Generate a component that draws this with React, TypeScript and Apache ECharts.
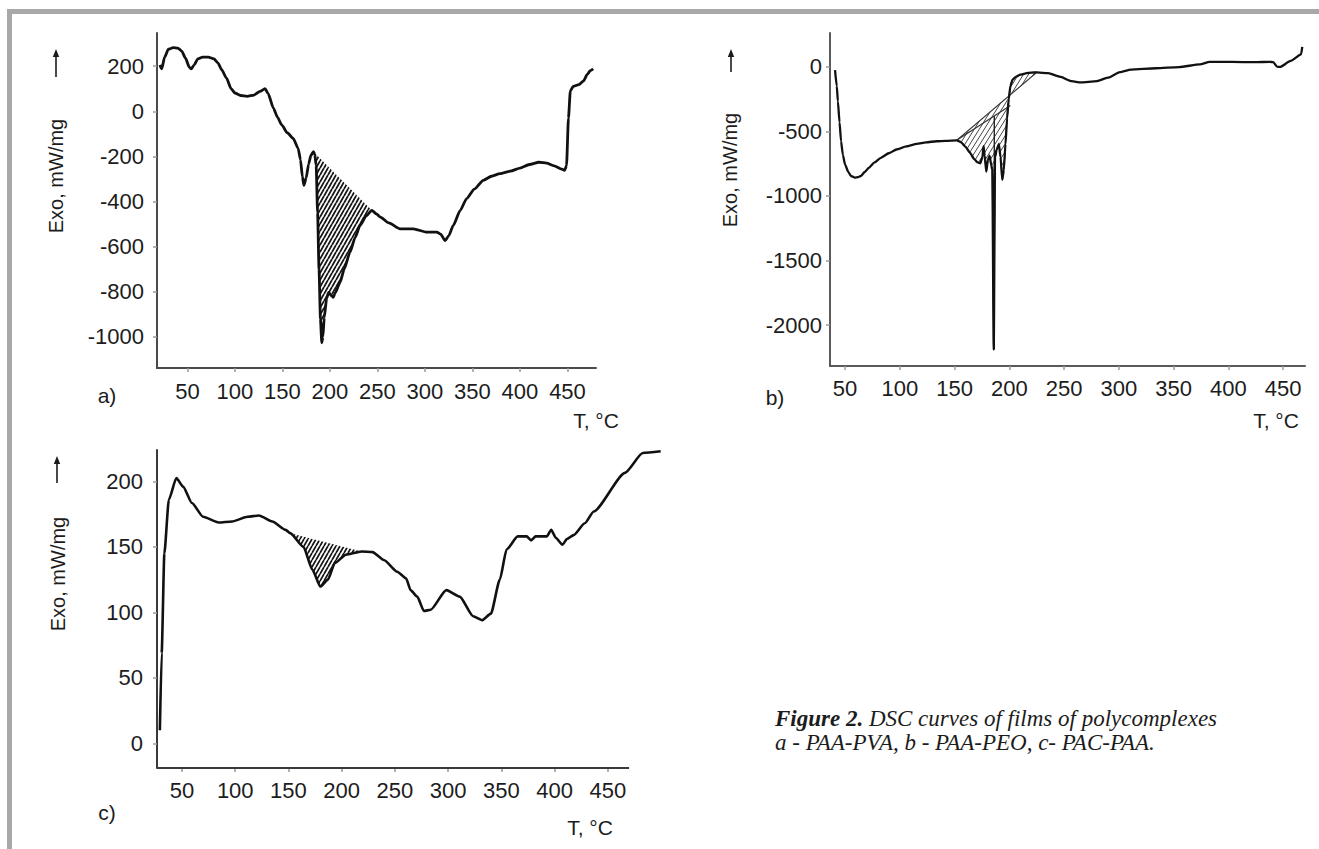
import React, { useEffect, useRef } from "react";
import * as echarts from "echarts";

// ---------- Chart a) PAA-PVA ----------
const aTemp = [21, 23, 26, 30, 35, 40, 44, 48, 52, 54, 57, 61, 66, 72, 78, 82, 86, 91, 96, 100, 106, 113, 120, 126.4, 131.7, 135, 140.5, 145, 149.2, 155, 161.3, 166.5, 169, 171, 172.6, 175, 177.5, 180, 182.6, 184, 185.5, 187, 188.5, 190, 191.4, 192.6, 194, 196.5, 198.6, 201.8, 203.5, 205.5, 210.6, 215, 221.1, 226.5, 231.7, 238, 244, 249, 253, 262, 273.7, 287.7, 302, 312.6, 316.5, 321.2, 325, 329.8, 337, 343.9, 352, 361.4, 370, 379, 390, 400, 410, 420, 428, 436, 443, 447, 449, 451, 453, 456, 462, 467, 471, 474, 477];
const aExo = [205, 188, 240, 275, 282, 280, 267, 235, 195, 188, 205, 232, 240, 240, 232, 215, 185, 148, 100, 81, 70, 66, 72, 88, 100, 78, 14, -28, -60, -95, -120, -164, -215, -290, -328, -295, -235, -195, -179, -190, -240, -450, -700, -920, -1026, -1000, -915, -830, -803, -818, -825, -805, -759, -700, -625, -560, -506, -465, -439, -455, -469, -495, -521, -521, -536, -536, -545, -573, -552, -506, -440, -387, -345, -306, -288, -276, -265, -252, -236, -226, -230, -242, -255, -262, -240, -30, 90, 110, 118, 135, 165, 180, 188];
const aXTicks = [50, 100, 150, 200, 250, 300, 350, 400, 450];
const aYTicks = [-1000, -800, -600, -400, -200, 0, 200];
const aHatchRange = [182.6, 244];

// ---------- Chart b) PAA-PEO ----------
const bTemp = [40.9, 42.5, 43.5, 45, 46.4, 48, 50, 53, 55.5, 59, 62, 64.5, 68, 71.8, 77, 82.7, 90, 97, 106, 115.5, 124, 133.6, 142, 152, 156, 160, 164, 168, 171, 173.5, 175.5, 176.5, 177.5, 179, 180.5, 182, 183.5, 184.5, 185.8, 187, 188.5, 190.5, 192, 193.6, 195, 196.5, 198, 199.5, 201, 203, 206, 210, 215, 220, 225, 235.5, 246, 257, 265, 280, 290, 301, 311, 334, 355, 374, 383, 403, 424, 438, 441, 444.5, 447, 457, 466.4, 467.5];
const bExo = [-26, -150, -269, -430, -577, -680, -756, -815, -846, -859, -855, -846, -815, -782, -740, -705, -670, -641, -617, -597, -585, -577, -574, -570, -585, -620, -665, -715, -740, -748, -700, -615, -690, -812, -720, -690, -760, -800, -2190, -700, -640, -600, -700, -875, -800, -600, -400, -250, -150, -100, -78, -62, -52, -45, -44, -50, -77, -112, -122, -112, -85, -42, -22, -12, -3, 18, 38, 37, 35, 38, 35, 0, -2, 45, 95, 154];
const bXTicks = [50, 100, 150, 200, 250, 300, 350, 400, 450];
const bYTicks = [-2000, -1500, -1000, -500, 0];
const bHatchRange = [152, 225];
const bInnerLineTemp = [152, 201];
const bInnerLineExo = [-570, -300];

// ---------- Chart c) PAC-PAA ----------
const cTemp = [29.2, 30.9, 33.4, 37.6, 44.7, 51, 59.3, 69.8, 84.5, 97, 111.7, 122.2, 134.8, 147.4, 151.6, 164.1, 172.5, 180, 187.1, 193.5, 204, 218.6, 229, 239.6, 252.2, 260.5, 264.7, 271, 277.3, 283.6, 298.3, 310.9, 323.5, 331.8, 340.2, 348.6, 354.9, 365.4, 373.8, 378, 382.2, 392.7, 396.9, 401.1, 407.4, 411.6, 417.9, 428.4, 436.8, 466.1, 482.9, 499.7];
const cExo = [10, 68.8, 145, 186, 202.6, 196, 183.5, 173, 168.6, 169.4, 173, 174, 169.4, 163, 160.5, 150, 132.5, 119.7, 125, 137.6, 144, 146.5, 146, 140, 131, 126, 117, 112, 101, 102, 117, 112, 97, 94, 99, 125, 148, 158, 158, 155, 158, 158, 163, 157, 151.6, 156, 159, 168, 177, 206.5, 221.7, 223];
const cXTicks = [50, 100, 150, 200, 250, 300, 350, 400, 450];
const cYTicks = [0, 50, 100, 150, 200];
const cHatchRange = [151.6, 218.6];
const cAxisEnd = 470;

const SANS = '"Liberation Sans", Arial, sans-serif';
const SERIF = '"Liberation Serif", "Times New Roman", serif';
const INK = "#1c1c1c";

function pairs(t: number[], v: number[]) {
  return t.map((x, i) => [x, v[i]]);
}

function hatchPattern(w: number, h: number, color: string, lw: number) {
  const c = document.createElement("canvas");
  c.width = w;
  c.height = h;
  const ctx = c.getContext("2d")!;
  ctx.strokeStyle = color;
  ctx.lineWidth = lw;
  ctx.beginPath();
  for (const dx of [-w, 0, w]) {
    ctx.moveTo(dx, h);
    ctx.lineTo(dx + w, 0);
  }
  ctx.stroke();
  return { image: c, repeat: "repeat", imageWidth: w, imageHeight: h } as any;
}

const plainNum = (v: number) => String(v);

function xAxisCfg(gridIndex: number, min: number, max: number, ticks: number[], color: string, margin: number, showLine = true) {
  return {
    type: "value",
    gridIndex,
    min,
    max,
    axisLine: { show: showLine, onZero: false, lineStyle: { color, width: 2 } },
    axisTick: { show: true, customValues: ticks, length: 4, lineStyle: { color: "#9a9a9a", width: 1.5 } },
    axisLabel: { show: true, customValues: ticks, formatter: plainNum, margin, color: INK, fontSize: 22, fontFamily: SANS },
    splitLine: { show: false },
  };
}

function yAxisCfg(gridIndex: number, min: number, max: number, ticks: number[], color: string, margin: number) {
  return {
    type: "value",
    gridIndex,
    min,
    max,
    axisLine: { show: true, onZero: false, lineStyle: { color, width: 2 } },
    axisTick: { show: true, customValues: ticks, length: 4, lineStyle: { color: "#9a9a9a", width: 1.5 } },
    axisLabel: { show: true, customValues: ticks, formatter: plainNum, margin, color: INK, fontSize: 22, fontFamily: SANS },
    splitLine: { show: false },
  };
}

function curve(idx: number, t: number[], v: number[], width: number, extra: any = {}) {
  return {
    type: "line",
    xAxisIndex: idx,
    yAxisIndex: idx,
    data: pairs(t, v),
    showSymbol: false,
    symbol: "none",
    smooth: 0.2,
    smoothMonotone: "x",
    clip: false,
    silent: true,
    z: 5,
    lineStyle: { color: "#111", width },
    ...extra,
  };
}

function hatch(idx: number, t: number[], v: number[], range: number[], pattern: any, stroke: string | null, extra?: (api: any) => any[]) {
  const poly = pairs(t, v).filter((p) => p[0] >= range[0] && p[0] <= range[1]);
  return {
    type: "custom",
    xAxisIndex: idx,
    yAxisIndex: idx,
    silent: true,
    z: 3,
    data: [poly[0]],
    renderItem: (_params: any, api: any) => {
      const pts = poly.map((p) => api.coord(p));
      const children: any[] = [
        {
          type: "polygon",
          shape: { points: pts },
          style: { fill: pattern, stroke: stroke || "none", lineWidth: 1.2 },
        },
      ];
      if (extra) children.push(...extra(api));
      return { type: "group", children };
    },
  };
}

function arrow(x: number, yTop: number, yBottom: number) {
  return {
    type: "group",
    children: [
      { type: "line", shape: { x1: x, y1: yTop + 5, x2: x, y2: yBottom }, style: { stroke: INK, lineWidth: 1.6 } },
      { type: "polygon", shape: { points: [[x, yTop], [x - 3.2, yTop + 8], [x + 3.2, yTop + 8]] }, style: { fill: INK } },
    ],
  };
}

function label(text: string, x: number, y: number, size: number, extra: any = {}) {
  return {
    type: "text",
    x,
    y,
    ...extra,
    style: {
      text,
      font: `${size}px ${SANS}`,
      fill: INK,
      textAlign: "center",
      textVerticalAlign: "middle",
      align: "center",
      verticalAlign: "middle",
    },
  };
}

function buildOption() {
  const patA = hatchPattern(4, 7, "#151515", 1.8);
  const patB = hatchPattern(5, 8, "#444", 1.0);
  const patC = hatchPattern(4, 7, "#151515", 1.7);

  const aMin = -1138, aMax = 347;
  const bMin = -2317, bMax = 261;
  const cXMin = 26.5, cXMax = 500, cMin = -18.9, cMax = 224;

  // spike of curve b: deepest point, with a vertical drop line up to the inner baseline
  const bMinIdx = bExo.indexOf(Math.min(...bExo));
  const spikeT = bTemp[bMinIdx];
  const innerAt =
    bInnerLineExo[0] +
    ((spikeT - bInnerLineTemp[0]) / (bInnerLineTemp[1] - bInnerLineTemp[0])) * (bInnerLineExo[1] - bInnerLineExo[0]);

  const bExtra = (api: any) => [
    {
      type: "polyline",
      shape: { points: pairs(bInnerLineTemp, bInnerLineExo).map((p) => api.coord(p)) },
      style: { stroke: "#333", lineWidth: 1.2, fill: "none" },
    },
    {
      type: "polyline",
      shape: { points: [api.coord([spikeT + 0.5, bExo[bMinIdx]]), api.coord([spikeT + 0.5, innerAt])] },
      style: { stroke: "#222", lineWidth: 1.4, fill: "none" },
    },
  ];

  // c) axis line stops at cAxisEnd while the curve runs on past it
  const cAxisLine = {
    silent: true,
    symbol: ["none", "none"],
    label: { show: false },
    emphasis: { disabled: true },
    lineStyle: { color: "#3a3a3a", width: 2, type: "solid" },
    data: [[{ coord: [cXMin, cMin] }, { coord: [cAxisEnd, cMin] }]],
  };

  return {
    animation: false,
    backgroundColor: "#ffffff",
    textStyle: { fontFamily: SANS },
    grid: [
      { left: 157, top: 33, width: 439, height: 335, containLabel: false, outerBoundsMode: "none" },
      { left: 830, top: 33, width: 475, height: 333, containLabel: false, outerBoundsMode: "none" },
      { left: 157, top: 450, width: 504, height: 318, containLabel: false, outerBoundsMode: "none" },
    ],
    xAxis: [
      xAxisCfg(0, 18, 480, aXTicks, "#4a4a4a", 12),
      xAxisCfg(1, 36.3, 470, bXTicks, "#5a5a5a", 11),
      xAxisCfg(2, cXMin, cXMax, cXTicks, "#3a3a3a", 11, false),
    ],
    yAxis: [
      yAxisCfg(0, aMin, aMax, aYTicks, "#4a4a4a", 13),
      yAxisCfg(1, bMin, bMax, bYTicks, "#5a5a5a", 8),
      yAxisCfg(2, cMin, cMax, cYTicks, "#3a3a3a", 14),
    ],
    series: [
      hatch(0, aTemp, aExo, aHatchRange, patA, null),
      hatch(1, bTemp, bExo, bHatchRange, patB, "#333", bExtra),
      hatch(2, cTemp, cExo, cHatchRange, patC, null),
      curve(0, aTemp, aExo, 2.8),
      curve(1, bTemp, bExo, 2.3),
      curve(2, cTemp, cExo, 2.6, { markLine: cAxisLine }),
    ],
    graphic: [
      { type: "rect", shape: { x: 7, y: 9, width: 5, height: 840 }, style: { fill: "#a8a8a8" } },
      { type: "rect", shape: { x: 7, y: 9, width: 1312, height: 5 }, style: { fill: "#a8a8a8" } },
      arrow(56, 49, 77),
      arrow(731, 49, 72),
      arrow(57, 456, 483),
      label("Exo, mW/mg", 56, 176, 20, { rotation: Math.PI / 2 }),
      label("Exo, mW/mg", 730, 170, 20, { rotation: Math.PI / 2 }),
      label("Exo, mW/mg", 58, 574, 20, { rotation: Math.PI / 2 }),
      label("a)", 107, 395, 21),
      label("b)", 775, 397, 21),
      label("c)", 107, 812, 21),
      label("T, °C", 596, 420, 21),
      label("T, °C", 1276, 420, 21),
      label("T, °C", 590, 827, 21),
      {
        type: "text",
        x: 775,
        y: 718,
        style: {
          text: "{b|Figure 2.} DSC curves of films of polycomplexes",
          fontFamily: SERIF,
          fontSize: 23,
          fontStyle: "italic",
          fill: INK,
          textVerticalAlign: "middle",
          verticalAlign: "middle",
          rich: {
            b: { fontFamily: SERIF, fontSize: 23, fontStyle: "italic", fontWeight: "bold", fill: INK },
          },
        },
      },
      {
        type: "text",
        x: 775,
        y: 742,
        style: {
          text: "a - PAA-PVA, b - PAA-PEO, c- PAC-PAA.",
          fontFamily: SERIF,
          fontSize: 23,
          fontStyle: "italic",
          fill: INK,
          textVerticalAlign: "middle",
          verticalAlign: "middle",
        },
      },
    ],
  };
}

export default function App() {
  const ref = useRef<HTMLDivElement>(null);
  useEffect(() => {
    const chart = echarts.init(ref.current!, null, { renderer: "svg", width: 1319, height: 849 });
    chart.setOption(buildOption() as any);
    return () => chart.dispose();
  }, []);
  return (
    <div
      ref={ref}
      style={{ position: "fixed", left: 0, top: 0, width: 1319, height: 849, background: "#fff" }}
    />
  );
}
